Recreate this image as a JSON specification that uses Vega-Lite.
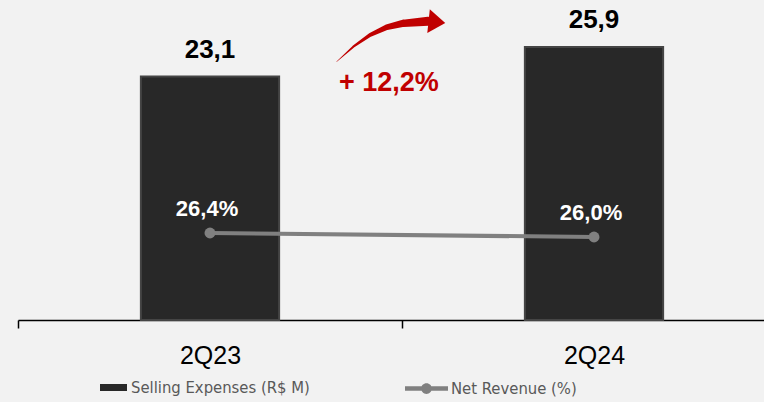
{
  "$schema": "https://vega.github.io/schema/vega-lite/v6.json",
  "width": 746,
  "height": 320,
  "autosize": {"type": "none"},
  "padding": {"left": 18, "top": 0, "right": 0, "bottom": 82},
  "background": "#f2f2f2",
  "config": {"view": {"stroke": null}},
  "datasets": {
    "quarters": [
      {"quarter": "2Q23", "expenses": 23.1, "pct": 26.4, "expLabel": "23,1", "pctLabel": "26,4%", "series": "Selling Expenses (R$ M)", "series2": "Net Revenue (%)"},
      {"quarter": "2Q24", "expenses": 25.9, "pct": 26.0, "expLabel": "25,9", "pctLabel": "26,0%", "series": "Selling Expenses (R$ M)", "series2": "Net Revenue (%)"}
    ],
    "arrow": [
      {"pos": 0.8299, "val": 24.50, "step": 0},
      {"pos": 0.8732, "val": 25.92, "step": 1},
      {"pos": 0.9167, "val": 27.03, "step": 2},
      {"pos": 0.9602, "val": 27.76, "step": 3},
      {"pos": 1.0034, "val": 28.14, "step": 4},
      {"pos": 1.0677, "val": 28.33, "step": 5}
    ],
    "head": [{"pos": 1.0878, "val": 28.27}],
    "growth": [{"pos": 0.966, "val": 21.72, "label": "+ 12,2%"}]
  },
  "layer": [
    {
      "data": {"name": "quarters"},
      "layer": [
        {
          "mark": {"type": "bar", "stroke": "#454545", "strokeWidth": 2},
          "encoding": {
            "x": {
              "field": "quarter", "type": "nominal",
              "scale": {"domain": ["2Q23", "2Q24"], "range": [0, 768], "paddingInner": 0.64, "paddingOuter": 0.32},
              "axis": {
                "title": null, "domainColor": "#000000", "domainWidth": 1.5,
                "tickColor": "#000000", "tickWidth": 1.5, "tickSize": 8,
                "tickOffset": -192, "labelOffset": 192,
                "labelFont": "Liberation Sans", "labelFontSize": 25, "labelColor": "#000000",
                "labelBaseline": "alphabetic", "labelPadding": 35, "labelAngle": 0
              }
            },
            "y": {"field": "expenses", "type": "quantitative", "scale": {"domain": [0, 30.35], "nice": false}, "axis": null},
            "color": {
              "field": "series", "type": "nominal",
              "scale": {"domain": ["Selling Expenses (R$ M)"], "range": ["#282828"]},
              "legend": {
                "title": null, "orient": "none", "legendX": 82, "legendY": 374, "padding": 0,
                "symbolType": "M-1,-0.26H1V0.26H-1Z", "symbolSize": 729, "symbolStrokeWidth": 0,
                "labelFont": "DejaVu Sans Condensed, Roboto, sans-serif", "labelFontSize": 16.5, "labelColor": "#595959", "labelOffset": 4, "labelLimit": 0
              }
            }
          }
        },
        {
          "mark": {"type": "text", "font": "Liberation Sans", "fontWeight": "bold", "fontSize": 26, "color": "#000000", "baseline": "alphabetic", "dy": -18.5},
          "encoding": {
            "x": {"field": "quarter", "type": "nominal", "scale": {"domain": ["2Q23", "2Q24"], "range": [0, 768], "paddingInner": 0.64, "paddingOuter": 0.32}},
            "y": {"field": "expenses", "type": "quantitative", "scale": {"domain": [0, 30.35], "nice": false}},
            "text": {"field": "expLabel"}
          }
        }
      ]
    },
    {
      "data": {"name": "quarters"},
      "layer": [
        {
          "mark": {"type": "line", "color": "#808080", "strokeWidth": 4},
          "encoding": {
            "x": {"field": "quarter", "type": "nominal", "scale": {"domain": ["2Q23", "2Q24"], "range": [0, 768], "paddingInner": 0.64, "paddingOuter": 0.32}, "axis": null},
            "y": {"field": "pct", "type": "quantitative", "scale": {"domain": [17.7, 49.7], "nice": false, "zero": false}, "axis": null}
          }
        },
        {
          "mark": {"type": "point", "filled": true, "size": 120, "opacity": 1, "strokeWidth": 0},
          "encoding": {
            "x": {"field": "quarter", "type": "nominal", "scale": {"domain": ["2Q23", "2Q24"], "range": [0, 768], "paddingInner": 0.64, "paddingOuter": 0.32}, "axis": null},
            "y": {"field": "pct", "type": "quantitative", "scale": {"domain": [17.7, 49.7], "nice": false, "zero": false}, "axis": null},
            "fill": {
              "field": "series2", "type": "nominal",
              "scale": {"domain": ["Net Revenue (%)"], "range": ["#808080"]},
              "legend": {
                "title": null, "orient": "none", "legendX": 387, "legendY": 367, "padding": 0,
                "symbolType": "M-1,-0.1H1V0.1H-1Z M-0.25,0A0.25,0.25 0 1,1 0.25,0A0.25,0.25 0 1,1 -0.25,0Z",
                "symbolSize": 1849, "symbolStrokeWidth": 0, "symbolOpacity": 1,
                "labelFont": "DejaVu Sans Condensed, Roboto, sans-serif", "labelFontSize": 16.5, "labelColor": "#595959", "labelOffset": 3, "labelLimit": 0
              }
            }
          }
        },
        {
          "mark": {"type": "text", "font": "Liberation Sans", "fontWeight": "bold", "fontSize": 22, "color": "#ffffff", "baseline": "alphabetic", "dy": -17, "dx": -3},
          "encoding": {
            "x": {"field": "quarter", "type": "nominal", "scale": {"domain": ["2Q23", "2Q24"], "range": [0, 768], "paddingInner": 0.64, "paddingOuter": 0.32}, "axis": null},
            "y": {"field": "pct", "type": "quantitative", "scale": {"domain": [17.7, 49.7], "nice": false, "zero": false}, "axis": null},
            "text": {"field": "pctLabel"}
          }
        }
      ]
    },
    {
      "layer": [
        {
          "data": {"name": "arrow"},
          "mark": {"type": "trail", "color": "#c00000"},
          "encoding": {
            "x": {"field": "pos", "type": "quantitative", "scale": {"domain": [0, 2], "range": [0, 768], "nice": false}, "axis": null},
            "y": {"field": "val", "type": "quantitative", "scale": {"domain": [0, 30.35], "nice": false}, "axis": null},
            "size": {"field": "step", "type": "quantitative", "scale": {"domain": [0, 5], "range": [0.5, 9], "zero": false}, "legend": null}
          }
        },
        {
          "data": {"name": "head"},
          "mark": {"type": "point", "shape": "M-0.6,-1L0.8,0L-0.6,1Z", "size": 576, "filled": true, "opacity": 1, "color": "#c00000", "angle": 6, "strokeWidth": 0},
          "encoding": {
            "x": {"field": "pos", "type": "quantitative", "scale": {"domain": [0, 2], "range": [0, 768], "nice": false}, "axis": null},
            "y": {"field": "val", "type": "quantitative", "scale": {"domain": [0, 30.35], "nice": false}, "axis": null}
          }
        },
        {
          "data": {"name": "growth"},
          "mark": {"type": "text", "font": "Liberation Sans", "fontWeight": "bold", "fontSize": 27, "color": "#c00000", "baseline": "alphabetic", "align": "center"},
          "encoding": {
            "x": {"field": "pos", "type": "quantitative", "scale": {"domain": [0, 2], "range": [0, 768], "nice": false}, "axis": null},
            "y": {"field": "val", "type": "quantitative", "scale": {"domain": [0, 30.35], "nice": false}, "axis": null},
            "text": {"field": "label"}
          }
        }
      ]
    }
  ],
  "resolve": {"scale": {"x": "independent", "y": "independent"}}
}
